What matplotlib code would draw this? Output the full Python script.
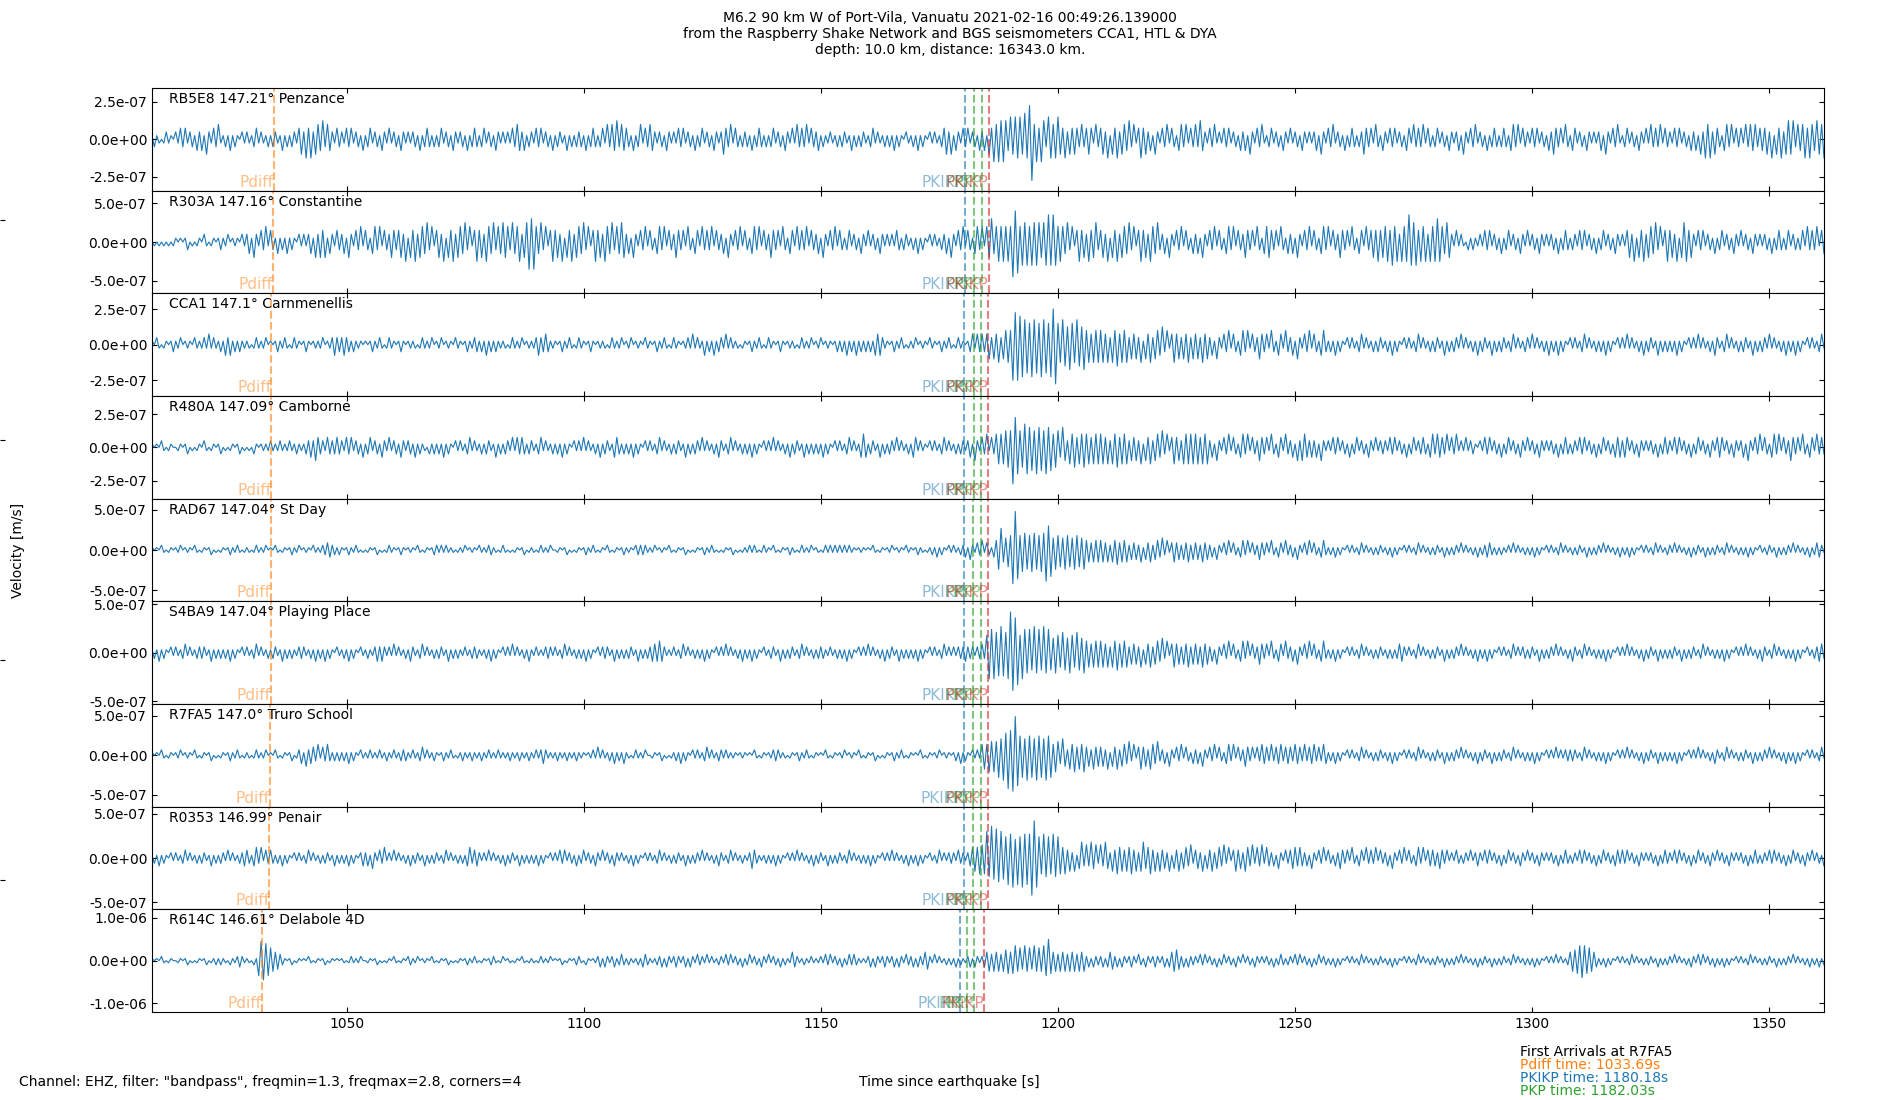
import matplotlib.pyplot as plt
import numpy as np
from matplotlib.ticker import FormatStrFormatter, MultipleLocator

# Event / station info
title = ("M6.2 90 km W of Port-Vila, Vanuatu 2021-02-16 00:49:26.139000\n"
         "from the Raspberry Shake Network and BGS seismometers CCA1, HTL & DYA\n"
         "depth: 10.0 km, distance: 16343.0 km.")
footer = 'Channel: EHZ, filter: "bandpass", freqmin=1.3, freqmax=2.8, corners=4'

stations = ['RB5E8', 'R303A', 'CCA1', 'R480A', 'RAD67', 'S4BA9', 'R7FA5', 'R0353', 'R614C']
distances = [147.21, 147.16, 147.1, 147.09, 147.04, 147.04, 147.0, 146.99, 146.61]
places = ['Penzance', 'Constantine', 'Carnmenellis', 'Camborne', 'St Day',
          'Playing Place', 'Truro School', 'Penair', 'Delabole 4D']

t_start, t_end = 1008.9, 1361.6

# arrival times per station [s]
pdiff = [1034.6, 1034.4, 1034.1, 1034.1, 1033.9, 1033.9, 1033.69, 1033.6, 1032.0]
pkikp = [1180.3, 1180.3, 1180.2, 1180.2, 1180.2, 1180.2, 1180.18, 1180.2, 1179.4]
pkp_1 = [1182.4, 1182.3, 1182.2, 1182.2, 1182.1, 1182.1, 1182.03, 1182.0, 1180.8]
pkp_2 = [1183.9, 1183.9, 1183.8, 1183.8, 1183.7, 1183.7, 1183.7, 1183.7, 1182.2]
pkikp_inner = [1185.4, 1185.4, 1185.3, 1185.3, 1185.3, 1185.3, 1185.2, 1185.2, 1184.4]

# y limits / tick spacing per panel
ylims = [3.43e-7, 6.6e-7, 3.6e-7, 3.86e-7, 6.4e-7, 5.3e-7, 6.5e-7, 5.8e-7, 1.2e-6]
ysteps = [2.5e-7, 5e-7, 2.5e-7, 2.5e-7, 5e-7, 5e-7, 5e-7, 5e-7, 1e-6]

# traces: successive peak amplitudes (every ~0.5 s),
# one base-36 digit per peak, in units of amp_units for that panel
amp_units = [0.25e-7, 0.5e-7, 0.25e-7, 0.25e-7, 0.3e-7, 0.3e-7, 0.35e-7, 0.3e-7, 0.5e-7]

trace_rb5e8 = (
    "1211012110" "2132312213" "2314213241" "1213121021"
    "2112312112" "1221131212" "21" "34253524" "435243" "2132"
    "2132312213" "1231221321" "3122132121" "2213123212"
    "1231221321" "2213123212" "3122132121" "2132432312"
    "2132312213" "1221131212" "2213123212" "3142435243"
    "3213124132" "4321221321" "2132312213" "1231221321"
    "2432413212" "2213123212" "1231221321" "3142324132"
    "2312112112" "1221131212" "2112312112" "1213121021"
    "1213121021" "2112342413" "2132312213" "2314364656"
    "5364656475" "9b46365265" "4564352434" "3242343142"
    "3425143524" "4352413534" "2314213241" "3213424132"
    "4253213241" "2132312213" "2314213241" "1231221321"
    "3122132121" "2314213241" "2213123212" "2432314213"
    "2132312213" "3142324132" "1231221321" "2314213241"
    "2213123212" "3213424132" "2132312213" "2432314213"
    "3122132121" "2314213241" "1231221321" "3142324132"
    "2132312213" "2314254524" "3213424132" "3142434233"
    "3425143524" "5452434535" "435445"
)
trace_r303a = (
    "0101010101" "1010120101" "1021011012" "1120111021"
    "2314213241" "3213" "121312102121" "2314243413" "2132"
    "2314213241" "3213424132" "2432" "3425143524435241"
    "3425143524" "4352413534" "2543524354" "4253452457"
    "6743524135" "3425143524" "4352413534" "2543524354"
    "2314213241" "3213424132" "2432314213" "3142324132"
    "2314213241" "3213424132" "2432314213" "3142324132"
    "2314213241" "32" "1231221321" "3122132121" "21321221"
    "1213121021" "2112" "231421324132134241" "44634545"
    "454" "988" "46564656" "5456" "7676" "45" "4352413534253452"
    "3425143524" "4352413534" "254352" "23142132413213"
    "2314213241" "3213424132" "2432314213" "4432314213"
    "2314213241" "3213424132" "2432314213" "3142343534"
    "4536452545" "7656354525" "45654354" "213121021211"
    "2132312213" "1231221321" "3122132121" "2213123212"
    "2132312213" "1231221321" "21" "342514352443524135"
    "3425145534" "2132312213" "1231221321" "3122132121"
    "2213123212312212" "3142324133"
)
trace_cca1 = (
    "1021011012" "1120111021" "11" "2131211213231212" "11"
    "1101211120" "1012112101" "2110121011" "1120112322"
    "2322121110" "1012112101" "2110121011" "1101211120"
    "1120111021" "1012112212" "1312121111" "0121112011"
    "1123223211" "1012112101" "2110121011" "1101211120"
    "1120111021" "1012112101" "211011" "21312113121312"
    "2131211101" "1012112101" "2110121011" "1101211120"
    "1120111012" "1213121312" "121213" "332" "11012112101"
    "1120111021" "1012112101" "21101" "2313232" "34243524"
    "454" "a9a89" "78697869786" "9ab" "6576576576" "57" "453545"
    "4535254635" "4524" "3425143524" "4352413534" "243524"
    "342534" "2314213241" "3213424132" "2432314213" "3142"
    "2314213241321342" "1213121021" "2112312112" "1221"
    "1213121021" "2112312112" "1221131212" "2131211213"
    "1221131212" "2112312112" "2131211213" "1213121021"
    "2112312112" "1213121021" "2131211213" "1221131212"
    "1213121021" "2131211213" "2112312112" "1221131212"
    "2131211213" "1213121021" "211231"
)
trace_r480a = (
    "1010210110" "0110120101" "1021011012" "0101101201"
    "01021011" "112111211121121112" "232432" "21322232"
    "2132312213" "1231221321" "312213212" "21312110212"
    "1213121021" "2112312112" "1221131212" "2131323212"
    "2112312112" "1213121021" "2131211213" "1221133212"
    "1213121021" "2112312112" "1221131212" "2131211213"
    "2112312112" "1213121021" "2131211213" "1221131212"
    "1213121021" "211231211" "343" "1221131212" "21312112"
    "1331211021" "2112312112" "1221" "231421324132" "4545"
    "565" "b98" "56786758675" "867" "46536425463546" "453545"
    "4535254635" "4524" "3425143524" "4352413534" "25" "4545"
    "453545" "2314213241" "3213424132" "2432314213" "3142"
    "2314244323" "231421" "2132312213" "1231221321" "3122"
    "2132312213123122" "3213424332413241" "21312210"
    "2132312213" "1231221321" "3122132121" "2213123212"
    "2132312213" "12312213" "3323" "31221321" "2122131232"
    "2132312213" "1231221321" "333" "1221321" "2314213241"
    "3213424132" "2432314213" "314232"
)
trace_rad67 = (
    "1010210110" "1120111021" "0110120101" "1012112101"
    "1101211120" "1021011012" "1120111021" "1122332212"
    "1012112101" "0110120101" "2110121011" "1021011012"
    "2121211101" "1120111021" "1122110121" "0101101201"
    "1101211120" "0110120101" "1012112101" "1021011012"
    "1110222221" "1120111021" "0110120101" "1012112101"
    "0110120101" "1121210121" "1021011012" "1101211120"
    "1101212121" "2121211011" "1010210110" "1120111021"
    "10121101" "12131210212112" "23142132413213" "4895"
    "576" "egc" "69786978697" "dab" "58675867586758" "453545"
    "4535254635" "4524" "3425143524" "4352413534" "243524"
    "342534" "2314213241" "3213424132" "2432314213" "3142"
    "2314213241321342" "1213121021" "2112312112" "1221"
    "1213121021" "2112312112" "1221131212" "2131211213"
    "1223321212" "1121312112" "1213121021" "2112312112"
    "1221131212" "2131211213" "1213121021" "2112312112"
    "2131211213" "1221131212" "2112312112" "1213121021"
    "1221131212" "2131211213" "123321"
)
trace_s4ba9 = (
    "1213121021" "2112312112" "2221131212" "1213121021"
    "2112312112" "1221131212" "1122211213" "1213121021"
    "1213121021" "1211232321" "2131211213" "2112312112"
    "1221131212" "1121122211" "1213121021" "2131211213"
    "1121112221" "2112312112" "1213121021" "2221131212"
    "1221131212" "2333432111" "2112312112" "1213121021"
    "2131211213" "1213121021" "1221131212" "2112312112"
    "1222112112" "1213121021" "2131211213" "1221131212"
    "121312102121123121" "21222322212232" "6989" "7898"
    "79" "edcb" "69878697869786" "57657657657657" "453545"
    "4535254635" "4524" "3425143524" "4352413534" "243524"
    "342534" "2314213241" "3213424132" "2432314213" "3142"
    "2314213241321342" "1213121021" "2112312112" "1221"
    "1212123321" "2112312112" "1221131212" "2131211213"
    "1213121021" "21123121" "22" "1221131212" "2131211213"
    "2112312112" "1213121021" "2131211213" "1221131212"
    "1221131212" "2112312112" "1213121021" "2131211213"
    "2112312112" "1213121021" "122332"
)
trace_r7fa5 = (
    "1010210110" "1120111021" "0110120101" "1012112101"
    "1101211120" "1021011012" "01" "23142332413242" "1212"
    "1213121021" "1121112112" "1121122211" "2112312112"
    "1012112101" "1211121112" "1121112111" "1211121112"
    "1121232111" "1211121112" "111011" "21312112131213"
    "1101211120" "0110120101" "1213121021" "2112312112"
    "2121111011" "1010210110" "1122211101" "1012112101"
    "1010210110" "1120111021" "0110120101" "1012112101"
    "101021011011201110" "121312102121" "4546565" "869"
    "8c9deb" "78697869786978" "46536425463546" "342534"
    "3425143524" "4352413534" "254352" "23142132413213"
    "2314213241" "3213424132" "243231" "32433242334233"
    "3243324233423243" "1213121021" "2112312112" "1221"
    "1213121021" "2112312112" "1221131212" "2131211213"
    "1221131212" "2112312112" "1213121021" "2131212222"
    "2112312112" "1213121021" "2131211213" "1221131212"
    "1213121021" "2131211213" "2112312112" "1221131212"
    "2131211213" "1213121021" "211231"
)
trace_r0353 = (
    "1213121021" "2112312112" "1221131212" "2131211223"
    "3213424132" "32" "1213121021" "2112312112" "12211312"
    "1213121023" "2314213241" "2131211213" "1221131212"
    "2112312112" "1213423321" "2131211213" "1221131212"
    "1213121021" "2132312213" "1231221321" "3122132121"
    "1213121021" "2112312112" "1221131212" "2131211213"
    "2112312112" "1124321112" "1213121021" "2131211213"
    "1221131212" "2112312112" "1213121021" "2131211213"
    "12131210211231" "212221322123" "454656" "a7c8b9a8"
    "8a9b7a8b9a" "9" "eeb" "8697869786" "4635251463536452"
    "5364253645" "3546352564" "463525" "34251435244352"
    "3425143524" "4352413534" "254352435243" "23142132"
    "3443432314" "2132413213" "2432314213" "3142324132"
    "2314213241" "32134241" "3333" "243231" "213212213123"
    "2132312213" "1231221321" "3122132121" "2213123212"
    "2132312213" "12312213" "3232" "3122132121" "22131232"
    "2132312213" "1231221321" "3122132121" "2213123212"
    "2132312213" "1231221321" "312213"
)
trace_r614c = (
    "1010210110" "0110120101" "101201" "1212" "110211" "2321"
    "11021" "79987" "65443" "2" "101201101021011012011010"
    "1101211120" "0110120101" "10210110" "22" "1120111021"
    "0110120101" "1012112101" "101" "22" "101201101102101"
    "1101211120" "101201101" "22" "1021011" "231321231232"
    "1211121" "33" "21112" "231321232123132132" "21312112"
    "2132312213" "1231221321" "312213" "1211" "43" "21121121"
    "11" "2132312213" "12" "323" "21111" "231321232123132132"
    "231322" "44" "21312112" "12131211" "23132123" "45354535"
    "5646756475" "6475657" "7a6" "45354535453545" "231322"
    "2313" "44" "23132123213213212321" "2313" "4554" "231322"
    "2132312213" "1231221321" "3122132121" "2213123212"
    "2132312213123122" "1213121021" "2112312112" "1221"
    "1213121021" "2112312112" "1221131212" "2131211213"
    "1221131212" "2112312112" "1213121021" "21312112" "45"
    "56787665" "43" "1213121021" "2112312112" "1221131212"
    "2131211213" "2132312213" "1213121021" "2112312112"
    "1221131212" "2131211213" "121312"
)
traces = [trace_rb5e8, trace_r303a, trace_cca1, trace_r480a, trace_rad67,
          trace_s4ba9, trace_r7fa5, trace_r0353, trace_r614c]

phase_colors = {'Pdiff': 'tab:orange', 'PKIKP': 'tab:blue', 'PKP': 'tab:green', 'PKiKP': 'tab:red'}

fig, axs = plt.subplots(len(stations), 1, figsize=(19, 11), dpi=100, sharex=True)
fig.subplots_adjust(left=0.08, right=0.96, top=0.92, bottom=0.08, hspace=0)

for i, ax in enumerate(axs):
    s = traces[i]
    peaks = np.array([int(c, 36) for c in s]) * amp_units[i]
    sign = np.where(np.arange(len(s)) % 2 == 0, 1.0, -1.0)
    t = np.linspace(t_start, t_end, len(s))
    ax.plot(t, peaks * sign, color='tab:blue', lw=0.8)

    arrivals = [('Pdiff', pdiff[i]), ('PKIKP', pkikp[i]), ('PKP', pkp_1[i]),
                ('PKP', pkp_2[i]), ('PKiKP', pkikp_inner[i])]
    for name, ta in arrivals:
        c = phase_colors[name]
        ax.axvline(ta, color=c, ls='--', lw=1.5, alpha=0.6)
        ax.text(ta, 0.01, name, color=c, alpha=0.5, fontsize=11, ha='right', va='bottom',
                transform=ax.get_xaxis_transform())

    ax.text(0.01, 0.96, f'{stations[i]} {distances[i]}° {places[i]}', transform=ax.transAxes,
            ha='left', va='top', fontsize=10)
    ax.set_ylim(-ylims[i], ylims[i])
    ax.yaxis.set_major_locator(MultipleLocator(ysteps[i]))
    ax.yaxis.set_major_formatter(FormatStrFormatter('%.1e'))
    ax.tick_params(direction='in', top=True, right=True)

axs[-1].set_xlim(t_start, t_end)
axs[-1].xaxis.set_major_locator(MultipleLocator(50))

# big frameless axes (only its left ticks show at the figure edge)
big = fig.add_axes([0, 0, 1, 1], frameon=False, zorder=-1)
big.set_xticks([])
big.set_yticks([0.2, 0.4, 0.6, 0.8])
big.set_ylim(0, 1)
big.tick_params(direction='in', labelleft=False)
big.patch.set_visible(False)

fig.suptitle(title, y=0.99, fontsize=10, va='top')
fig.text(0.0095, 0.5, 'Velocity [m/s]', rotation=90, ha='center', va='center', fontsize=10)
fig.text(0.01, 0.0165, footer, ha='left', va='center', fontsize=10)
fig.text(0.4995, 0.0165, 'Time since earthquake [s]', ha='center', va='center', fontsize=10)

fig.text(0.8, 0.0439, 'First Arrivals at R7FA5', ha='left', va='center', fontsize=10)
fig.text(0.8, 0.0318, f'Pdiff time: {pdiff[6]:.2f}s', ha='left', va='center', fontsize=10, color='tab:orange')
fig.text(0.8, 0.0203, f'PKIKP time: {pkikp[6]:.2f}s', ha='left', va='center', fontsize=10, color='tab:blue')
fig.text(0.8, 0.0080, f'PKP time: {pkp_1[6]:.2f}s', ha='left', va='center', fontsize=10, color='tab:green')

fig.savefig('out.png', dpi=100)
